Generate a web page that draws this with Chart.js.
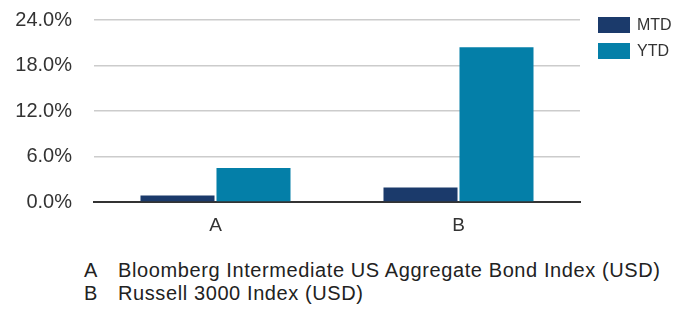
<!DOCTYPE html>
<html>
<head>
<meta charset="utf-8">
<script src="https://cdn.jsdelivr.net/npm/chart.js@4.4.0/dist/chart.umd.min.js"></script>
<style>
  html, body { margin: 0; padding: 0; background: #fff; }
  #wrap { position: relative; width: 683px; height: 311px; overflow: hidden; font-family: "Liberation Sans", Arial, sans-serif; }
  #chartBox { position: absolute; left: 0; top: -14px; width: 683px; height: 259px; }
  .note { position: absolute; font-size: 20px; line-height: 22px; color: #222; white-space: nowrap; letter-spacing: 0.6px; }
  .note .k { position: absolute; left: 0; }
  .note .t { position: absolute; left: 34px; }
</style>
</head>
<body>
<div id="wrap">
  <div id="chartBox"><canvas id="c"></canvas></div>
  <div id="notes"></div>
</div>
<script>
const categories = ['A', 'B'];
const seriesNames = ['MTD', 'YTD'];
const mtdValues = [0.85, 1.9];
const ytdValues = [4.5, 20.4];
const yTicks = [0, 6, 12, 18, 24];
const footnoteKeys = ['A', 'B'];
const footnoteTexts = ['Bloomberg Intermediate US Aggregate Bond Index (USD)', 'Russell 3000 Index (USD)'];

const colors = ['#1B3A6B', '#047FA8'];
const FONT = '"Liberation Sans", Arial, sans-serif';

// footnotes
const notes = document.getElementById('notes');
footnoteKeys.forEach((k, i) => {
  const d = document.createElement('div');
  d.className = 'note';
  d.style.left = '84px';
  d.style.top = (259 + i * 23) + 'px';
  d.style.width = '600px';
  d.style.height = '22px';
  d.innerHTML = '<span class="k"></span><span class="t"></span>';
  d.querySelector('.k').textContent = k;
  d.querySelector('.t').textContent = footnoteTexts[i];
  notes.appendChild(d);
});

const customLegend = {
  id: 'customLegend',
  afterDraw(chart) {
    const ctx = chart.ctx;
    ctx.save();
    ctx.font = '16px ' + FONT;
    ctx.textBaseline = 'middle';
    ctx.textAlign = 'left';
    chart.data.datasets.forEach((ds, i) => {
      const x = 598, y = 17 + 14 + i * 26;
      ctx.fillStyle = ds.backgroundColor;
      ctx.fillRect(x, y, 32, 16);
      ctx.fillStyle = '#333';
      ctx.fillText(ds.label, x + 39, y + 8.5);
    });
    ctx.restore();
  }
};

new Chart(document.getElementById('c'), {
  type: 'bar',
  data: {
    labels: categories,
    datasets: [
      { label: seriesNames[0], data: mtdValues, backgroundColor: colors[0] },
      { label: seriesNames[1], data: ytdValues, backgroundColor: colors[1] }
    ]
  },
  options: {
    responsive: true,
    maintainAspectRatio: false,
    animation: false,
    events: [],
    layout: { padding: { top: 8, right: 103, bottom: 0, left: 0 } },
    categoryPercentage: 0.6255,
    barPercentage: 0.974,
    plugins: {
      legend: { display: false },
      tooltip: { enabled: false }
    },
    scales: {
      x: {
        grid: { display: false, drawTicks: false },
        border: { display: true, color: '#333', width: 2 },
        ticks: { color: '#333', font: { family: FONT, size: 19 }, padding: 12 },
        afterFit(s) { s.height = 43; }
      },
      y: {
        min: 0, max: 24,
        afterBuildTicks(s) { s.ticks = yTicks.map(v => ({ value: v })); },
        grid: { color: '#cccccc', lineWidth: 1.5, drawTicks: false },
        border: { display: false },
        ticks: {
          color: '#333',
          font: { family: FONT, size: 20 },
          padding: 22,
          callback: v => v.toFixed(1) + '%'
        },
        afterFit(s) { s.width = 94; }
      }
    }
  },
  plugins: [customLegend]
});
</script>
</body>
</html>
